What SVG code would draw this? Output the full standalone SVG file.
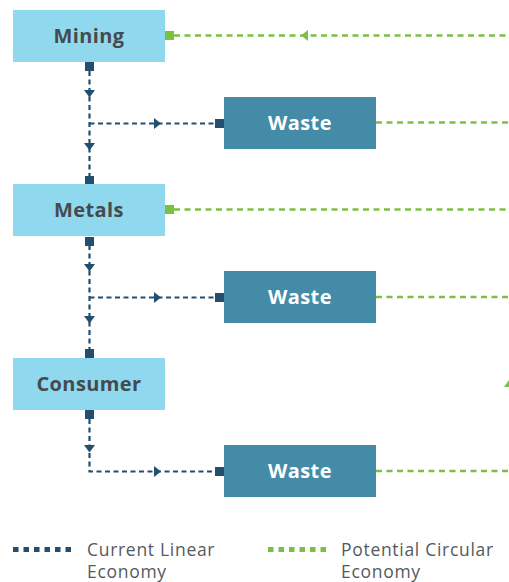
<svg xmlns="http://www.w3.org/2000/svg" xmlns:xlink="http://www.w3.org/1999/xlink" width="509" height="582" viewBox="0 0 509 582">
<style>
.src{fill:#8fd8ee}
.waste{fill:#448ba8}
.lbl{font-family:"Open Sans","Liberation Sans",sans-serif;font-weight:700;font-size:20px;letter-spacing:0.4px;text-anchor:middle}
.dk{fill:#454a4e}
.wt{fill:#ffffff}
.lin{stroke:#234f6e;stroke-width:2.2;stroke-dasharray:5 3.5;fill:none}
.circ{stroke:#7bc043;stroke-width:2.5;stroke-dasharray:6 4.5;fill:none}
.sqd{fill:#234f6e}
.sqg{fill:#7bc043}
.leg{font-family:"Open Sans","Liberation Sans",sans-serif;font-size:17.5px;letter-spacing:0.7px;fill:#555a5e}
</style>
<defs>
<polygon id="ad" points="-5.5,-4 5.5,-4 0,3.5" fill="#234f6e"/>
<polygon id="ar" points="-3,-5.5 4,0 -3,5.5" fill="#234f6e"/>
<polygon id="al" points="3,-5.5 -4,0 3,5.5" fill="#7bc043"/>
</defs>
<g id="connectors">
<line class="circ" x1="174" y1="35.5" x2="509" y2="35.5"/>
<use xlink:href="#al" x="305" y="35.5"/>
<line class="circ" x1="376" y1="122.5" x2="509" y2="122.5"/>
<line class="circ" x1="174" y1="209.5" x2="509" y2="209.5"/>
<line class="circ" x1="376" y1="297" x2="509" y2="297"/>
<line class="circ" x1="376" y1="471" x2="509" y2="471"/>
<polygon points="504,387 509,380 509,387" fill="#7bc043"/>
<rect class="sqg" x="165" y="31" width="9" height="9"/>
<rect class="sqg" x="165" y="205" width="9" height="9"/>
<line class="lin" x1="89.5" y1="71" x2="89.5" y2="176"/>
<line class="lin" x1="89.5" y1="123.5" x2="216" y2="123.5"/>
<rect class="sqd" x="85" y="62" width="9" height="9"/>
<rect class="sqd" x="85" y="176" width="9" height="9"/>
<rect class="sqd" x="215" y="119" width="9" height="9"/>
<use xlink:href="#ad" x="89.5" y="94"/>
<use xlink:href="#ad" x="89.5" y="147"/>
<use xlink:href="#ar" x="157" y="123.5"/>
<line class="lin" x1="89.5" y1="245" x2="89.5" y2="350"/>
<line class="lin" x1="89.5" y1="297.5" x2="216" y2="297.5"/>
<rect class="sqd" x="85" y="237" width="9" height="9"/>
<rect class="sqd" x="85" y="349" width="9" height="9"/>
<rect class="sqd" x="215" y="293" width="9" height="9"/>
<use xlink:href="#ad" x="89.5" y="268"/>
<use xlink:href="#ad" x="89.5" y="320"/>
<use xlink:href="#ar" x="157" y="297.5"/>
<path class="lin" d="M89.5 419 V471.5 H216"/>
<rect class="sqd" x="85" y="410" width="9" height="9"/>
<rect class="sqd" x="215" y="467" width="9" height="9"/>
<use xlink:href="#ad" x="89.5" y="449"/>
<use xlink:href="#ar" x="157" y="471.5"/>
</g>
<g id="mining"><rect class="src" x="13" y="10" width="152" height="52"/><text class="lbl dk" x="89" y="43">Mining</text></g>
<g id="metals"><rect class="src" x="13" y="184" width="152" height="52"/><text class="lbl dk" x="89" y="217">Metals</text></g>
<g id="consumer"><rect class="src" x="13" y="358" width="152" height="52"/><text class="lbl dk" x="89" y="391">Consumer</text></g>
<g id="waste1"><rect class="waste" x="224" y="97" width="152" height="52"/><text class="lbl wt" x="300" y="130">Waste</text></g>
<g id="waste2"><rect class="waste" x="224" y="271" width="152" height="52"/><text class="lbl wt" x="300" y="304">Waste</text></g>
<g id="waste3"><rect class="waste" x="224" y="445" width="152" height="52"/><text class="lbl wt" x="300" y="478">Waste</text></g>
<g id="legend">
<line x1="13" y1="549.5" x2="76" y2="549.5" stroke="#234f6e" stroke-width="5" stroke-dasharray="5.5 5"/>
<text class="leg" x="87" y="556">Current Linear</text>
<text class="leg" x="87" y="578">Economy</text>
<line x1="268" y1="549.5" x2="331" y2="549.5" stroke="#7bc043" stroke-width="5" stroke-dasharray="5.5 5"/>
<text class="leg" x="341" y="556">Potential Circular</text>
<text class="leg" x="341" y="578">Economy</text>
</g>
</svg>
